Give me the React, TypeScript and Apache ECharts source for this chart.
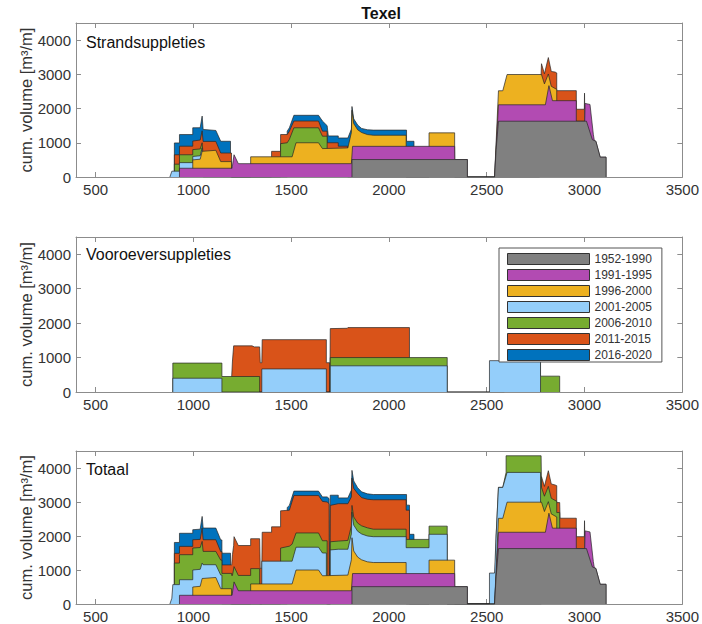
import React, { useEffect, useRef } from "react";
import * as echarts from "echarts";

// ---- categories / legend ----
const periods = ["1952-1990", "1991-1995", "1996-2000", "2001-2005", "2006-2010", "2011-2015", "2016-2020"];
const periodColors = ["#808080", "#B24BB2", "#EDB120", "#94CEFA", "#77AC30", "#D95319", "#0072BD"];
const panelTitles = ["Strandsuppleties", "Vooroeversuppleties", "Totaal"];
const xTicks = [500, 1000, 1500, 2000, 2500, 3000, 3500];
const yTicks = [0, 1000, 2000, 3000, 4000];

// ---- cumulative upper edge of each period band: [raai position, cum. volume m3/m] ----
// Strandsuppleties
const strandGray = [[1811,0],[1811,510],[2401,510],[2401,0],[2540,0],[2548,800],[2560,1630],[3010,1630],[3040,1090],[3058,1045],[3080,580],[3110,580],[3110,0]];
const strandMagenta = [[929,0],[929,256],[1198,256],[1208,650],[1230,390],[1808,390],[1814,896],[2336,896],[2337,510],[2401,510],[2401,0],[2540,0],[2560,2110],[2800,2110],[2818,2670],[2836,2230],[2958,2230],[2958,1630],[3001,1630],[3003,2150],[3028,2120],[3045,1250],[3050,1070],[3058,1045],[3080,580],[3110,580],[3110,0]];
const strandYellow = [[997,0],[997,500],[1035,520],[1045,750],[1115,780],[1140,450],[1195,450],[1195,0],[1293,0],[1293,590],[1505,590],[1525,1000],[1640,1000],[1660,830],[1790,850],[1808,1300],[1811,1950],[1820,1560],[1840,1380],[1860,1300],[1890,1240],[1920,1220],[2088,1220],[2088,0],[2205,0],[2205,1290],[2336,1290],[2336,0],[2540,0],[2560,2520],[2582,2520],[2604,2995],[2780,2995],[2795,2720],[2815,3010],[2830,2650],[2858,2560],[2858,0]];
const strandLightBlue = [[880,0],[890,170],[929,170],[929,420],[997,420],[997,600],[1035,620],[1045,850],[1048,0]];
const strandGreen = [[903,0],[903,375],[929,375],[929,650],[997,650],[997,800],[1035,820],[1045,1000],[1048,780],[1050,0],[1446,0],[1446,975],[1480,1000],[1491,1100],[1514,1438],[1640,1438],[1660,1192],[1684,1192],[1684,0]];
const strandOrange = [[903,0],[903,650],[929,650],[929,900],[997,900],[997,1050],[1035,1080],[1045,1350],[1050,1040],[1115,1040],[1140,700],[1195,700],[1195,0],[1400,0],[1400,750],[1446,750],[1446,1241],[1480,1241],[1491,1340],[1514,1635],[1640,1635],[1660,1340],[1684,1340],[1684,1000],[1741,1000],[1741,900],[1790,900],[1790,0],[2770,0],[2778,2995],[2780,3310],[2795,3016],[2815,3490],[2830,3084],[2850,3065],[2858,3040],[2858,2523],[2958,2523],[2958,1980],[2999,1980],[3000,2450],[3001,1980],[3002,0]];
const strandBlue = [[903,0],[903,995],[929,995],[929,1240],[997,1240],[997,1438],[1035,1440],[1045,1780],[1050,1390],[1115,1360],[1140,1044],[1190,1044],[1190,0],[1480,0],[1480,1340],[1491,1438],[1514,1803],[1640,1803],[1660,1635],[1684,1500],[1690,1200],[1741,1200],[1741,1140],[1790,1140],[1808,1400],[1811,2060],[1820,1700],[1840,1520],[1860,1420],[1890,1380],[1920,1370],[2090,1370],[2090,1044],[2128,1044],[2128,0]];

// Vooroeversuppleties
const vooLightBlue = [[895,0],[895,400],[1146,400],[1146,0],[1350,0],[1350,670],[1680,670],[1680,0],[1700,0],[1700,760],[2298,760],[2298,0],[2514,0],[2514,910],[2775,910],[2775,0]];
const vooGreen = [[895,0],[895,840],[1146,840],[1146,450],[1339,450],[1339,0],[1700,0],[1700,1000],[2298,1000],[2298,0],[2590,0],[2590,1400],[2775,1400],[2775,460],[2873,460],[2873,0]];
const vooOrange = [[1196,0],[1196,450],[1200,900],[1206,1340],[1300,1340],[1312,1310],[1339,1310],[1342,850],[1350,850],[1352,1520],[1680,1520],[1680,850],[1697,850],[1698,0],[1700,0],[1700,1840],[1787,1850],[1790,1870],[2105,1870],[2105,0]];

// Totaal (gray, magenta and yellow equal the strand bands)
const totaalLightBlue = [[880,0],[890,170],[895,570],[929,570],[929,714],[997,714],[997,1000],[1035,1020],[1045,1204],[1050,1155],[1115,1155],[1140,850],[1146,850],[1146,0],[1350,0],[1350,1260],[1505,1260],[1525,1670],[1640,1670],[1660,1500],[1680,1500],[1680,0],[1700,0],[1700,1590],[1741,1610],[1790,1610],[1808,2060],[1811,2700],[1820,2320],[1840,2140],[1860,2060],[1890,2000],[1920,1980],[2088,1980],[2088,1656],[2205,1656],[2205,2050],[2298,2050],[2298,0],[2514,0],[2514,910],[2540,910],[2548,2000],[2560,3430],[2582,3430],[2604,3870],[2775,3870],[2775,0]];
const totaalGreen = [[903,0],[903,1204],[929,1204],[929,1450],[997,1450],[997,1646],[1035,1660],[1045,1842],[1050,1547],[1115,1547],[1140,1290],[1146,1290],[1146,900],[1196,900],[1196,840],[1200,840],[1208,1100],[1230,840],[1293,840],[1293,1040],[1339,1040],[1339,0],[1446,0],[1446,1645],[1491,1700],[1505,1760],[1525,2090],[1640,2090],[1660,1860],[1684,1860],[1684,0],[1700,0],[1700,1830],[1741,1850],[1790,1870],[1808,2300],[1811,2900],[1820,2560],[1840,2380],[1860,2300],[1890,2240],[1920,2200],[2088,2200],[2088,1900],[2205,1900],[2205,2290],[2298,2290],[2298,0],[2540,0],[2548,2000],[2560,3430],[2582,3430],[2599,3870],[2599,4360],[2778,4360],[2780,3430],[2795,3170],[2815,3460],[2830,3110],[2858,3020],[2858,2690],[2873,2690],[2873,0]];
const totaalOrange = [[903,0],[903,1490],[929,1490],[929,1694],[997,1694],[997,1890],[1035,1900],[1045,2233],[1050,1890],[1115,1890],[1140,1540],[1146,1540],[1146,1150],[1196,1150],[1200,1450],[1206,1720],[1208,1980],[1230,1720],[1293,1720],[1293,1920],[1339,1920],[1342,1050],[1350,1050],[1352,2110],[1400,2110],[1400,2270],[1446,2270],[1446,2740],[1491,2760],[1514,3190],[1640,3190],[1660,3018],[1684,3000],[1694,2950],[1695,850],[1699,850],[1700,2900],[1741,2950],[1790,2950],[1808,3150],[1811,3700],[1820,3400],[1840,3250],[1860,3130],[1890,3080],[1920,3066],[2088,3066],[2088,2760],[2105,2760],[2105,0],[2779,0],[2780,3745],[2795,3460],[2815,3920],[2830,3530],[2850,3500],[2858,3480],[2858,2983],[2873,2983],[2875,2523],[2958,2523],[2958,1980],[2999,1980],[3000,2450],[3001,1980],[3002,0]];
const totaalBlue = [[903,0],[903,1810],[929,1810],[929,2080],[997,2080],[997,2185],[1035,2200],[1045,2576],[1050,2234],[1115,2234],[1140,1884],[1146,1884],[1146,1494],[1190,1494],[1190,0],[1480,0],[1480,2840],[1491,2900],[1514,3320],[1640,3320],[1660,3150],[1684,3150],[1694,3100],[1695,850],[1699,850],[1700,3200],[1741,3200],[1741,3120],[1790,3120],[1808,3350],[1811,3930],[1820,3620],[1840,3420],[1860,3300],[1890,3240],[1920,3220],[2090,3220],[2090,2908],[2105,2908],[2105,2050],[2128,2050],[2128,0]];

const FONT = "'Liberation Sans', Arial, Helvetica, sans-serif";
const AXIS_COLOR = "#8c8c8c";
const TEXT_COLOR = "#333333";

function buildOption() {
  const panels = [
    [strandGray, strandMagenta, strandYellow, strandLightBlue, strandGreen, strandOrange, strandBlue],
    [[], [], [], vooLightBlue, vooGreen, vooOrange, []],
    [strandGray, strandMagenta, strandYellow, totaalLightBlue, totaalGreen, totaalOrange, totaalBlue],
  ];
  const grids = [
    { left: 76, right: 16, top: 23, height: 154 },
    { left: 76, right: 16, top: 237, height: 155 },
    { left: 76, right: 16, top: 451, height: 153 },
  ];
  const xAxis: any[] = [];
  const yAxis: any[] = [];
  const fmt = (v: number) => String(v);
  const tickStyle = { show: true, inside: true, length: 5, lineStyle: { color: AXIS_COLOR, width: 1 } };
  const lineStyle = { show: true, onZero: false, lineStyle: { color: AXIS_COLOR, width: 1 } };
  grids.forEach((_, i) => {
    xAxis.push({
      type: "value", gridIndex: i, min: 400, max: 3500, position: "bottom",
      axisLine: lineStyle,
      axisTick: { ...tickStyle, customValues: xTicks },
      axisLabel: { customValues: xTicks, formatter: fmt, color: TEXT_COLOR, fontSize: 15, fontFamily: FONT, margin: 5 },
      splitLine: { show: false },
    });
    yAxis.push({
      type: "value", gridIndex: i, min: 0, max: 4500, position: "left",
      axisLine: lineStyle,
      axisTick: { ...tickStyle, customValues: yTicks },
      axisLabel: { customValues: yTicks, formatter: fmt, color: TEXT_COLOR, fontSize: 15, fontFamily: FONT, margin: 5 },
      splitLine: { show: false },
      name: "cum. volume [m³/m]", nameLocation: "middle", nameRotate: 90, nameGap: 42,
      nameMoveOverlap: false,
      nameTextStyle: { color: TEXT_COLOR, fontSize: 16.5, fontFamily: FONT },
    });
  });
  grids.forEach((_, i) => {
    xAxis.push({
      type: "value", gridIndex: i, min: 400, max: 3500, position: "top",
      axisLine: lineStyle,
      axisTick: { ...tickStyle, customValues: xTicks },
      axisLabel: { show: false },
      splitLine: { show: false },
    });
    yAxis.push({
      type: "value", gridIndex: i, min: 0, max: 4500, position: "right",
      axisLine: lineStyle,
      axisTick: { ...tickStyle, customValues: yTicks },
      axisLabel: { show: false },
      splitLine: { show: false },
    });
  });

  // Upper periods are drawn first; each lower period is painted over them (higher z).
  const series: any[] = [];
  panels.forEach((layers, p) => {
    for (let k = layers.length - 1; k >= 0; k--) {
      series.push({
        type: "line",
        name: periods[k],
        xAxisIndex: p,
        yAxisIndex: p,
        data: layers[k],
        symbol: "none",
        showSymbol: false,
        color: periodColors[k],
        lineStyle: { color: "#262626", width: 0.7 },
        areaStyle: { color: periodColors[k], opacity: 1, origin: "start" },
        silent: true,
        animation: false,
        z: 2 + (layers.length - 1 - k),
      });
    }
  });

  const graphic: any[] = [
    {
      type: "text", x: 381, y: 13, silent: true, z: 100,
      style: { text: "Texel", font: `bold 16px ${FONT}`, fill: "#111", align: "center", textAlign: "center", verticalAlign: "middle", textVerticalAlign: "middle" },
    },
  ];
  const labelY = [42, 254, 469];
  panelTitles.forEach((t, i) => {
    graphic.push({
      type: "text", x: 86, y: labelY[i], silent: true, z: 100,
      style: { text: t, font: `16px ${FONT}`, fill: "#111", verticalAlign: "middle", textVerticalAlign: "middle" },
    });
  });

  return {
    animation: false,
    backgroundColor: "#ffffff",
    grid: grids,
    xAxis,
    yAxis,
    series,
    graphic,
    legend: {
      show: true,
      data: periods.map((name, i) => ({ name, itemStyle: { color: periodColors[i], borderColor: "#333", borderWidth: 1 } })),
      orient: "vertical",
      left: 499,
      top: 248,
      icon: "rect",
      itemWidth: 82,
      itemHeight: 11,
      itemGap: 4,
      padding: [5, 10, 1, 8],
      backgroundColor: "#ffffff",
      borderColor: "#555",
      borderWidth: 1,
      selectedMode: false,
      textStyle: { fontSize: 12, color: TEXT_COLOR, fontFamily: FONT },
      z: 100,
    },
  };
}

export default function App() {
  const ref = useRef<HTMLDivElement>(null);
  useEffect(() => {
    if (!ref.current) return;
    const chart = echarts.init(ref.current, undefined, { renderer: "svg" });
    chart.setOption(buildOption() as any);
    return () => chart.dispose();
  }, []);
  return <div ref={ref} style={{ position: "fixed", left: 0, top: 0, width: 702, height: 624, background: "#fff" }} />;
}
